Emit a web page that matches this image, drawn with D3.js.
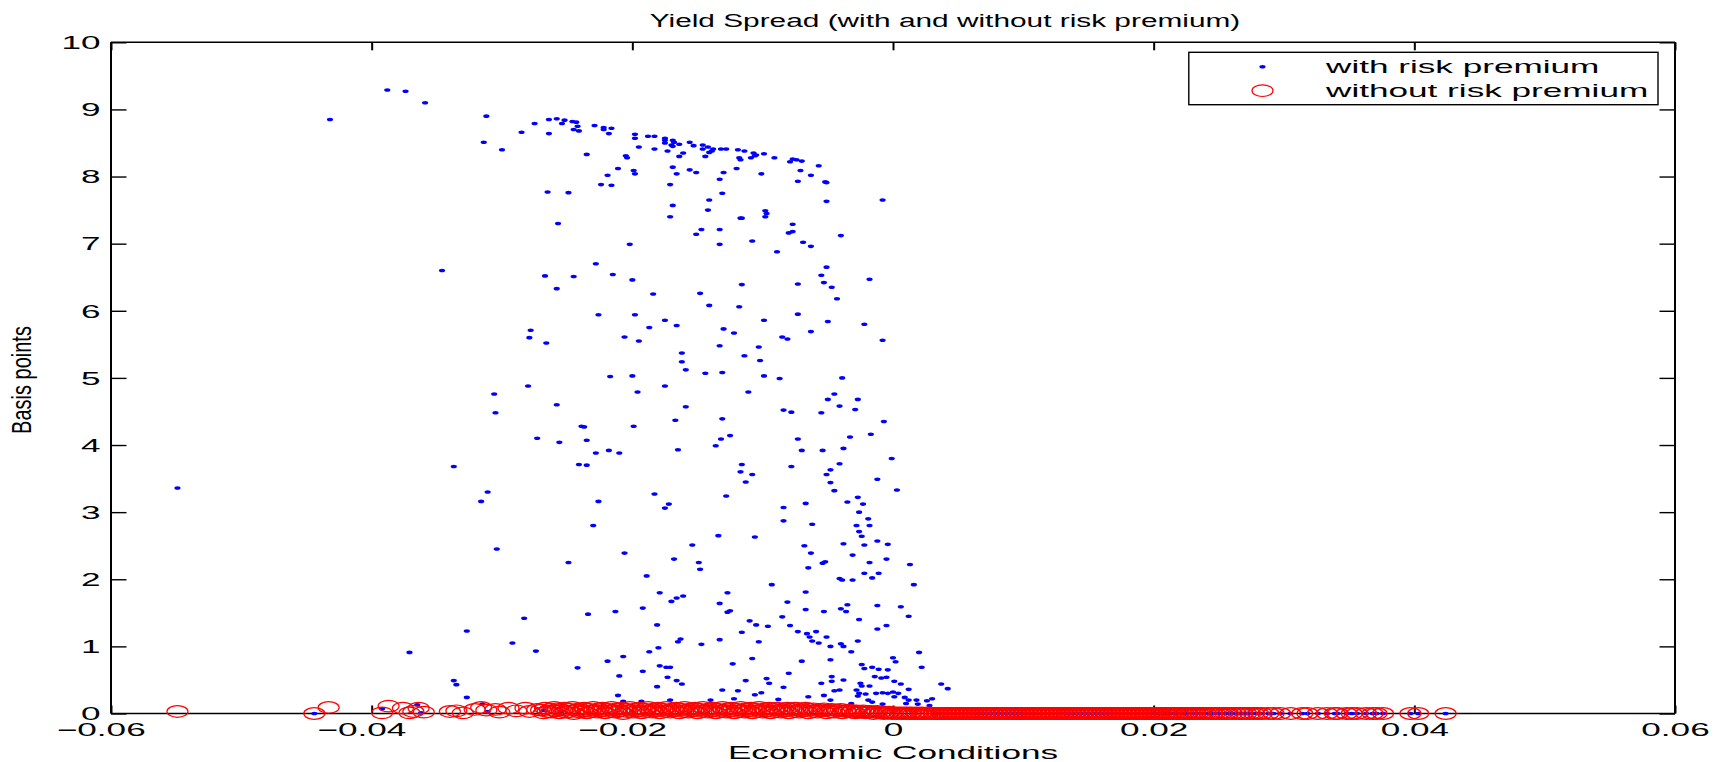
<!DOCTYPE html>
<html>
<head>
<meta charset="utf-8">
<script src="https://cdn.jsdelivr.net/npm/d3@7"></script>
<style>
  body { margin: 0; background: #fff; }
  text { font-family: "Liberation Sans", Arial, Helvetica, sans-serif; fill: #000; }
</style>
</head>
<body>
<svg id="chart" width="1719" height="762"></svg>
<script>
// ---- data ----
const titleText = "Yield Spread (with and without risk premium)";
const xLabel = "Economic Conditions";
const yLabel = "Basis points";
const legendLabels = ["with risk premium", "without risk premium"];
const xTicks = [-0.06, -0.04, -0.02, 0, 0.02, 0.04, 0.06];
const yTicks = [0, 1, 2, 3, 4, 5, 6, 7, 8, 9, 10];

// spread with risk premium [economic condition, basis points]
const withPremium = [
  [-0.0388,9.29],[-0.0374,9.27],[-0.0359,9.10],[-0.0432,8.85],[-0.0312,8.90],[-0.0275,8.79],[-0.0264,8.85],[-0.0258,8.86],
  [-0.0252,8.84],[-0.0254,8.79],[-0.0246,8.82],[-0.0243,8.81],[-0.0242,8.75],[-0.0245,8.70],[-0.0241,8.68],[-0.0229,8.76],
  [-0.0222,8.73],[-0.0216,8.72],[-0.0222,8.70],[-0.0218,8.64],[-0.0285,8.66],[-0.0264,8.64],[-0.0314,8.51],[-0.0300,8.40],
  [-0.0235,8.33],[-0.0198,8.63],[-0.0198,8.57],[-0.0188,8.60],[-0.0195,8.44],[-0.0205,8.31],[-0.0204,8.28],[-0.0211,8.12],
  [-0.0219,8.02],[-0.0199,8.09],[-0.0198,8.04],[-0.0224,7.88],[-0.0216,7.87],[-0.0265,7.77],[-0.0249,7.76],[-0.0257,7.30],
  [-0.0202,6.99],[-0.0346,6.60],[-0.0228,6.70],[-0.0267,6.52],[-0.0245,6.51],[-0.0215,6.54],[-0.0200,6.46],[-0.0258,6.33],
  [-0.0226,5.94],[-0.0198,5.94],[-0.0278,5.71],[-0.0279,5.60],[-0.0266,5.52],[-0.0206,5.61],[-0.0195,5.55],[-0.0187,5.75],
  [-0.0183,8.60],[-0.0183,8.41],[-0.0175,8.57],[-0.0175,8.54],[-0.0175,8.50],[-0.0169,8.54],[-0.0168,8.51],[-0.0170,8.47],
  [-0.0169,8.45],[-0.0164,8.48],[-0.0173,8.38],[-0.0161,8.35],[-0.0164,8.30],[-0.0156,8.51],[-0.0153,8.46],[-0.0146,8.47],
  [-0.0146,8.41],[-0.0142,8.44],[-0.0138,8.41],[-0.0139,8.38],[-0.0141,8.36],[-0.0132,8.41],[-0.0128,8.41],[-0.0144,8.30],
  [-0.0119,8.40],[-0.0114,8.38],[-0.0107,8.35],[-0.0105,8.32],[-0.0106,8.31],[-0.0099,8.34],[-0.0118,8.28],[-0.0117,8.25],
  [-0.0109,8.28],[-0.0091,8.28],[-0.0077,8.26],[-0.0074,8.25],[-0.0070,8.23],[-0.0079,8.22],[-0.0057,8.16],[-0.0071,8.09],
  [-0.0063,8.02],[-0.0073,7.93],[-0.0052,7.92],[-0.0051,7.91],[-0.0051,7.63],[-0.0008,7.65],[-0.0169,8.14],[-0.0166,8.04],
  [-0.0156,8.10],[-0.0151,8.06],[-0.0130,8.06],[-0.0133,7.96],[-0.0120,8.12],[-0.0101,8.04],[-0.0171,7.88],[-0.0131,7.75],
  [-0.0141,7.65],[-0.0169,7.57],[-0.0142,7.50],[-0.0171,7.40],[-0.0117,7.38],[-0.0116,7.38],[-0.0098,7.49],[-0.0097,7.45],
  [-0.0098,7.40],[-0.0077,7.29],[-0.0077,7.18],[-0.0080,7.16],[-0.0040,7.12],[-0.0147,7.21],[-0.0151,7.14],[-0.0133,7.21],
  [-0.0133,6.99],[-0.0108,7.04],[-0.0069,7.02],[-0.0063,6.96],[-0.0089,6.88],[-0.0051,6.65],[-0.0055,6.53],[-0.0053,6.42],
  [-0.0047,6.35],[-0.0018,6.47],[-0.0043,6.18],[-0.0073,6.40],[-0.0116,6.39],[-0.0148,6.26],[-0.0141,6.08],[-0.0118,6.06],
  [-0.0184,6.25],[-0.0175,5.86],[-0.0166,5.78],[-0.0099,5.86],[-0.0073,5.95],[-0.0050,5.84],[-0.0022,5.80],[-0.0063,5.69],
  [-0.0085,5.61],[-0.0081,5.58],[-0.0008,5.56],[-0.0130,5.73],[-0.0122,5.67],[-0.0133,5.48],[-0.0103,5.46],[-0.0162,5.37],
  [-0.0114,5.33],[-0.0102,5.26],
  [-0.0549,3.36],[-0.0337,3.68],[-0.0306,4.76],[-0.0305,4.48],[-0.0280,4.88],[-0.0258,4.60],[-0.0217,5.02],[-0.0200,5.03],
  [-0.0196,4.79],[-0.0239,4.28],[-0.0237,4.27],[-0.0199,4.28],[-0.0273,4.10],[-0.0256,4.04],[-0.0235,4.07],[-0.0228,3.88],
  [-0.0218,3.92],[-0.0210,3.88],[-0.0241,3.71],[-0.0235,3.70],[-0.0311,3.30],[-0.0316,3.16],[-0.0226,3.16],[-0.0230,2.80],
  [-0.0304,2.45],[-0.0206,2.39],[-0.0249,2.25],[-0.0189,2.05],[-0.0283,1.42],[-0.0234,1.48],[-0.0213,1.52],[-0.0192,1.57],
  [-0.0327,1.23],
  [-0.0162,5.24],[-0.0159,5.12],[-0.0144,5.07],[-0.0131,5.08],[-0.0099,5.03],[-0.0087,4.99],[-0.0039,5.00],[-0.0175,4.88],
  [-0.0111,4.79],[-0.0045,4.76],[-0.0050,4.68],[-0.0027,4.68],[-0.0029,4.53],[-0.0041,4.58],[-0.0084,4.52],[-0.0078,4.49],
  [-0.0055,4.48],[-0.0159,4.57],[-0.0167,4.37],[-0.0131,4.39],[-0.0007,4.35],[-0.0132,4.09],[-0.0125,4.14],[-0.0136,3.99],
  [-0.0073,4.09],[-0.0017,4.16],[-0.0033,4.12],[-0.0038,3.95],[-0.0070,3.92],[-0.0054,3.92],[-0.0165,3.93],[-0.0001,3.80],
  [-0.0116,3.71],[-0.0117,3.60],[-0.0108,3.56],[-0.0113,3.45],[-0.0078,3.68],[-0.0041,3.72],[-0.0048,3.63],[-0.0051,3.56],
  [-0.0048,3.44],[-0.0045,3.32],[-0.0012,3.49],[0.0003,3.33],[-0.0183,3.27],[-0.0172,3.12],[-0.0175,3.06],[-0.0128,3.24],
  [-0.0084,3.07],[-0.0084,2.87],[-0.0067,3.13],[-0.0062,2.82],[-0.0027,3.22],[-0.0035,3.15],[-0.0023,3.12],[-0.0026,3.00],
  [-0.0019,2.90],[-0.0018,2.80],[-0.0028,2.80],[-0.0026,2.71],[-0.0024,2.64],[-0.0012,2.57],[-0.0004,2.52],[-0.0022,2.51],
  [-0.0038,2.53],[-0.0134,2.65],[-0.0106,2.63],[-0.0154,2.51],[-0.0068,2.50],[-0.0063,2.39],[-0.0168,2.30],[-0.0149,2.25],
  [-0.0148,2.15],[-0.0031,2.36],[-0.0018,2.25],[-0.0005,2.30],[0.0013,2.22],[-0.0054,2.24],[-0.0052,2.26],[-0.0065,2.17],
  [-0.0022,2.09],[-0.0011,2.09],[-0.0016,2.02],[-0.0041,2.01],[-0.0039,1.99],[-0.0031,1.99],[0.0016,1.92],[-0.0093,1.92],
  [-0.0179,1.80],[-0.0170,1.67],[-0.0166,1.72],[-0.0161,1.75],[-0.0127,1.80],[-0.0133,1.64],[-0.0127,1.51],[-0.0125,1.53],
  [-0.0081,1.66],[-0.0067,1.81],[-0.0067,1.55],[-0.0053,1.52],[-0.0035,1.62],[-0.0040,1.56],[-0.0036,1.52],[-0.0012,1.61],
  [0.0006,1.59],[0.0012,1.45],[-0.0026,1.40],[-0.0005,1.31],[-0.0012,1.26],[-0.0085,1.44],[-0.0110,1.38],[-0.0105,1.32],
  [-0.0096,1.30],[-0.0079,1.31],[-0.0181,1.32],
  [-0.0371,0.91],[-0.0337,0.49],[-0.0335,0.43],[-0.0327,0.24],[-0.0292,1.05],[-0.0274,0.93],[-0.0242,0.68],[-0.0365,0.13],
  [-0.0392,0.07],[-0.0444,0.00],[-0.0362,0.01],[-0.0315,0.14],[-0.0311,0.03],[-0.0268,0.05],[-0.0255,0.03],
  [-0.0219,0.78],[-0.0207,0.85],[-0.0210,0.56],[-0.0211,0.27],[-0.0192,0.63],[-0.0187,0.92],[-0.0180,0.98],[-0.0165,1.07],
  [-0.0163,1.11],[-0.0147,1.03],[-0.0133,1.10],[-0.0116,1.21],[-0.0103,1.07],[-0.0073,1.22],[-0.0066,1.19],[-0.0059,1.22],
  [-0.0064,1.14],[-0.0062,1.08],[-0.0057,1.05],[-0.0051,1.14],[-0.0048,1.00],[-0.0040,1.04],[-0.0038,1.00],[-0.0032,0.92],
  [-0.0027,1.08],[-0.0179,0.71],[-0.0174,0.69],[-0.0171,0.69],[-0.0181,0.40],[-0.0173,0.54],[-0.0166,0.49],[-0.0162,0.44],
  [-0.0123,0.74],[-0.0108,0.82],[-0.0113,0.49],[-0.0097,0.52],[-0.0095,0.45],[-0.0080,0.60],[-0.0070,0.78],[-0.0048,0.80],
  [-0.0024,0.73],[-0.0022,0.67],[-0.0016,0.69],[-0.0011,0.66],[-0.0004,0.65],[0.0000,0.83],[0.0002,0.77],[0.0020,0.91],
  [0.0022,0.69],[-0.0047,0.55],[-0.0047,0.48],[-0.0038,0.50],[-0.0055,0.45],[-0.0025,0.45],[-0.0024,0.41],[-0.0018,0.41],
  [-0.0014,0.55],[-0.0009,0.53],[-0.0005,0.54],[0.0001,0.48],[0.0006,0.44],[0.0037,0.44],[0.0042,0.37],[-0.0131,0.35],
  [-0.0119,0.34],[-0.0106,0.28],[-0.0101,0.31],[-0.0084,0.39],[-0.0065,0.25],[-0.0053,0.27],[-0.0048,0.20],[-0.0045,0.34],
  [-0.0041,0.35],[-0.0028,0.35],[-0.0026,0.30],[-0.0027,0.26],[-0.0021,0.29],[-0.0019,0.20],[-0.0013,0.30],[-0.0008,0.31],
  [-0.0004,0.30],[0.0001,0.25],[0.0000,0.32],[0.0004,0.30],[0.0009,0.24],[0.0012,0.36],[0.0012,0.20],[0.0018,0.20],
  [0.0019,0.14],[0.0026,0.19],[0.0030,0.22],[0.0028,0.12],[-0.0140,0.20],[-0.0171,0.20],[-0.0193,0.18],[-0.0207,0.18],
  [-0.0032,0.15],[-0.0016,0.17],[-0.0008,0.14],[0.0010,0.15],[-0.0122,0.22],[-0.0088,0.21]
];

// spread without risk premium, where it is not exactly zero [economic condition, basis points]
const withoutPremium = [
  [-0.0549,0.03],[-0.0444,0.00],[-0.0433,0.09],[-0.0392,0.01],[-0.0387,0.11],[-0.0376,0.08],[-0.0371,0.01],[-0.0368,0.03],
  [-0.0364,0.08],[-0.0360,0.02],[-0.0340,0.03],[-0.0335,0.04],[-0.0330,0.01],[-0.0321,0.06],[-0.0316,0.09],[-0.0312,0.05],
  [-0.0305,0.06],[-0.0302,0.02],[-0.0295,0.08],[-0.0289,0.04],[-0.0282,0.08],[-0.0279,0.03],[-0.0273,0.06],
  [-0.0270,0.05],[-0.0268,0.01],[-0.0267,0.08],[-0.0265,0.03],[-0.0263,0.06],[-0.0262,0.02],[-0.0260,0.09],[-0.0259,0.04],
  [-0.0257,0.07],[-0.0256,0.01],[-0.0254,0.05],[-0.0252,0.08],[-0.0251,0.02],[-0.0249,0.06],[-0.0248,0.03],[-0.0246,0.09],
  [-0.0245,0.00],[-0.0243,0.05],[-0.0241,0.07],[-0.0240,0.02],[-0.0238,0.04],[-0.0237,0.08],[-0.0235,0.01],[-0.0234,0.06],
  [-0.0232,0.03],[-0.0230,0.09],[-0.0229,0.05],[-0.0227,0.02],[-0.0226,0.07],[-0.0224,0.04],[-0.0223,0.08],[-0.0221,0.01],
  [-0.0219,0.06],[-0.0218,0.03],[-0.0216,0.09],[-0.0215,0.05],[-0.0213,0.02],[-0.0212,0.07],[-0.0210,0.04],[-0.0208,0.08],
  [-0.0207,0.00],[-0.0205,0.06],[-0.0204,0.03],[-0.0202,0.09],[-0.0201,0.05],[-0.0199,0.02],[-0.0197,0.07],[-0.0196,0.04],
  [-0.0194,0.08],[-0.0193,0.01],[-0.0191,0.06],[-0.0190,0.03],[-0.0188,0.09],[-0.0186,0.05],[-0.0185,0.02],[-0.0183,0.07],
  [-0.0182,0.04],[-0.0180,0.08],[-0.0179,0.01],[-0.0177,0.06],[-0.0175,0.03],[-0.0174,0.09],[-0.0172,0.05],[-0.0171,0.02],
  [-0.0169,0.07],[-0.0168,0.04],[-0.0166,0.08],[-0.0164,0.01],[-0.0163,0.06],[-0.0161,0.03],[-0.0160,0.09],[-0.0158,0.05],
  [-0.0157,0.02],[-0.0155,0.07],[-0.0153,0.04],[-0.0152,0.08],[-0.0150,0.01],[-0.0149,0.06],[-0.0147,0.03],[-0.0146,0.09],
  [-0.0144,0.05],[-0.0142,0.02],[-0.0141,0.07],[-0.0139,0.04],[-0.0138,0.08],[-0.0136,0.01],[-0.0135,0.06],[-0.0133,0.03],
  [-0.0131,0.09],[-0.0130,0.05],[-0.0128,0.02],[-0.0127,0.07],[-0.0125,0.04],[-0.0124,0.08],[-0.0122,0.01],[-0.0120,0.06],
  [-0.0119,0.03],[-0.0117,0.09],[-0.0116,0.05],[-0.0114,0.02],[-0.0113,0.07],[-0.0111,0.04],[-0.0109,0.08],[-0.0108,0.01],
  [-0.0106,0.06],[-0.0105,0.03],[-0.0103,0.09],[-0.0102,0.05],[-0.0100,0.02],[-0.0098,0.07],[-0.0097,0.04],[-0.0095,0.08],
  [-0.0094,0.01],[-0.0092,0.06],[-0.0091,0.03],[-0.0089,0.08],[-0.0087,0.05],[-0.0086,0.02],[-0.0084,0.07],[-0.0083,0.04],
  [-0.0081,0.08],[-0.0080,0.01],[-0.0078,0.06],[-0.0076,0.03],[-0.0075,0.08],[-0.0073,0.05],[-0.0072,0.02],[-0.0070,0.07],
  [-0.0069,0.04],[-0.0067,0.08],[-0.0065,0.01],[-0.0064,0.06],[-0.0062,0.03],[-0.0061,0.07],[-0.0059,0.05],[-0.0058,0.02],
  [-0.0056,0.06],[-0.0054,0.04],[-0.0053,0.07],[-0.0051,0.01],[-0.0050,0.05],[-0.0048,0.03],[-0.0047,0.06],[-0.0045,0.02],
  [-0.0043,0.05],[-0.0042,0.04],[-0.0040,0.06],[-0.0039,0.01],[-0.0037,0.04],[-0.0036,0.03],[-0.0034,0.05],[-0.0032,0.02],
  [-0.0031,0.04],[-0.0029,0.01],[-0.0028,0.04],[-0.0026,0.03],[-0.0025,0.02],[-0.0023,0.04],[-0.0021,0.01],[-0.0020,0.03],
  [-0.0018,0.02],[-0.0017,0.03],[-0.0015,0.00],[-0.0014,0.02],[-0.0012,0.03],[-0.0010,0.01],[-0.0009,0.02],[-0.0007,0.00],
  [-0.0006,0.02],[-0.0004,0.01],[-0.0003,0.02],[-0.0001,0.00],[0.0000,0.01],[0.0002,0.01],[0.0003,0.00],[0.0005,0.01],
  [0.0007,0.00],[0.0008,0.01],[0.0010,0.00],[0.0011,0.01],[0.0013,0.00],[0.0014,0.01],[0.0016,0.00],[0.0018,0.01],
  [0.0019,0.00],[0.0021,0.00],[0.0022,0.01],[0.0024,0.00],[0.0025,0.00],[0.0027,0.01],[0.0029,0.00]
];

// economic conditions where both spreads are zero
const zeroSpreadX = [
  0.0031,0.0032,0.0034,0.0035,0.0037,0.0038,0.0040,0.0041,0.0043,0.0044,0.0046,0.0047,0.0049,0.0050,0.0052,0.0053,
  0.0055,0.0056,0.0058,0.0059,0.0061,0.0062,0.0064,0.0065,0.0067,0.0068,0.0070,0.0071,0.0073,0.0074,0.0076,0.0077,
  0.0079,0.0080,0.0082,0.0083,0.0085,0.0086,0.0088,0.0089,0.0091,0.0092,0.0094,0.0095,0.0097,0.0098,0.0100,0.0101,
  0.0103,0.0104,0.0106,0.0107,0.0109,0.0110,0.0112,0.0113,0.0115,0.0116,0.0118,0.0119,0.0121,0.0122,0.0124,0.0125,
  0.0127,0.0128,0.0130,0.0131,0.0133,0.0134,0.0136,0.0137,0.0139,0.0140,0.0142,0.0143,0.0145,0.0146,0.0148,0.0149,
  0.0151,0.0152,0.0154,0.0155,0.0157,0.0158,0.0160,0.0161,0.0163,0.0164,0.0166,0.0167,0.0169,0.0170,0.0172,0.0173,
  0.0175,0.0176,0.0178,0.0179,0.0181,0.0182,0.0184,0.0185,0.0187,0.0188,0.0190,0.0191,0.0193,0.0194,0.0196,0.0197,
  0.0199,0.0200,0.0202,0.0203,0.0205,0.0206,0.0208,0.0209,0.0211,0.0213,0.0214,0.0216,0.0218,0.0219,0.0221,0.0223,
  0.0225,0.0226,0.0228,0.0230,0.0232,0.0234,0.0236,0.0238,0.0240,0.0243,0.0245,0.0247,0.0250,0.0252,0.0255,0.0257,
  0.0260,0.0263,0.0266,0.0268,0.0271,0.0274,0.0277,0.0280,0.0283,0.0288,0.0292,0.0297,0.0305,0.0314,0.0318,0.0326,
  0.0333,0.0339,0.0341,0.0348,0.0352,0.0356,0.0363,0.0368,0.0371,0.0376,0.0397,0.0403,0.0424
];

// ---- drawing ----
const svg = d3.select("#chart");
const plot = { left: 111, right: 1675, top: 42.3, bottom: 713.5 };
const sxTick = 1.95, sxText = 1.85;   // the original figure is stretched horizontally

const x = d3.scaleLinear().domain([-0.06, 0.06]).range([plot.left, plot.right]);
const y = d3.scaleLinear().domain([0, 10]).range([plot.bottom, plot.top]);

svg.append("rect").attr("width", 1719).attr("height", 762).attr("fill", "#fff");

const fmtX = d => d === 0 ? "0" : d3.format(".2f")(d);

// axes (ticks point inward, on all four sides)
const gx = svg.append("g").attr("transform", `translate(0,${plot.bottom})`)
  .call(d3.axisBottom(x).tickValues(xTicks).tickSize(-8).tickFormat(fmtX));
const gxTop = svg.append("g").attr("transform", `translate(0,${plot.top})`)
  .call(d3.axisTop(x).tickValues(xTicks).tickSize(-8).tickFormat(""));
const gy = svg.append("g").attr("transform", `translate(${plot.left},0)`)
  .call(d3.axisLeft(y).tickValues(yTicks).tickSize(-15.5).tickFormat(d3.format("d")));
const gyRight = svg.append("g").attr("transform", `translate(${plot.right},0)`)
  .call(d3.axisRight(y).tickValues(yTicks).tickSize(-15.5).tickFormat(""));

[gx, gxTop, gy, gyRight].forEach(g => {
  g.select(".domain").remove();
  g.selectAll(".tick line").attr("stroke", "#000");
});
gx.selectAll(".tick line").attr("stroke-width", 2);
gxTop.selectAll(".tick line").attr("stroke-width", 2);
gy.selectAll(".tick line").attr("stroke-width", 1.4);
gyRight.selectAll(".tick line").attr("stroke-width", 1.4);

gx.selectAll(".tick text")
  .attr("y", 0).attr("dy", 0)
  .attr("dx", d => d < 0 ? "-0.292em" : 0)
  .attr("transform", `translate(0,22.5) scale(${sxTick},1)`)
  .style("font-size", "18px");
gy.selectAll(".tick text")
  .attr("x", 0).attr("dy", "0.35em")
  .attr("transform", `translate(-10.5,0) scale(${sxTick},1)`)
  .style("font-size", "18px");
svg.selectAll(".tick text").attr("fill", "#000").attr("font-family", null);

// box
svg.append("path")
  .attr("d", `M${plot.left},${plot.top}H${plot.right}M${plot.left},${plot.bottom}H${plot.right}`)
  .attr("stroke", "#000").attr("stroke-width", 1.4).attr("fill", "none");
svg.append("path")
  .attr("d", `M${plot.left},${plot.top}V${plot.bottom}M${plot.right},${plot.top}V${plot.bottom}`)
  .attr("stroke", "#000").attr("stroke-width", 2).attr("fill", "none");

// series
const bluePts = withPremium.concat(zeroSpreadX.map(v => [v, 0]));
const redPts = withoutPremium.concat(zeroSpreadX.map(v => [v, 0]));

svg.append("g").selectAll("ellipse")
  .data(bluePts).enter().append("ellipse")
  .attr("cx", d => x(d[0])).attr("cy", d => y(d[1]))
  .attr("rx", 3.1).attr("ry", 1.8)
  .attr("fill", "#0000ff");

svg.append("g").selectAll("ellipse")
  .data(redPts).enter().append("ellipse")
  .attr("cx", d => x(d[0])).attr("cy", d => y(d[1]))
  .attr("rx", 10.5).attr("ry", 5.8)
  .attr("fill", "none").attr("stroke", "#ff0000").attr("stroke-width", 1.2);

// title and labels
svg.append("text")
  .attr("transform", "translate(945,27) scale(1.57,1)")
  .attr("text-anchor", "middle").style("font-size", "19px")
  .text(titleText);
svg.append("text")
  .attr("transform", `translate(${(plot.left + plot.right) / 2},759) scale(${sxText},1)`)
  .attr("text-anchor", "middle").style("font-size", "19px")
  .text(xLabel);
svg.append("text")
  .attr("transform", "translate(31,380) scale(1.35,1) rotate(-90)")
  .attr("text-anchor", "middle").style("font-size", "20px")
  .text(yLabel);

// legend
const lg = svg.append("g");
lg.append("rect")
  .attr("x", 1188.8).attr("y", 52.3).attr("width", 469.2).attr("height", 52.4)
  .attr("fill", "#fff").attr("stroke", "#000").attr("stroke-width", 1.4);
lg.append("ellipse").attr("cx", 1262.5).attr("cy", 66.7).attr("rx", 3.1).attr("ry", 1.8).attr("fill", "#0000ff");
lg.append("ellipse").attr("cx", 1262.5).attr("cy", 90.7).attr("rx", 10.5).attr("ry", 5.8)
  .attr("fill", "none").attr("stroke", "#ff0000").attr("stroke-width", 1.2);
legendLabels.forEach((t, i) => {
  lg.append("text")
    .attr("transform", `translate(1326,${73.3 + i * 24}) scale(${sxText},1)`)
    .style("font-size", "19px")
    .text(t);
});
</script>
</body>
</html>
